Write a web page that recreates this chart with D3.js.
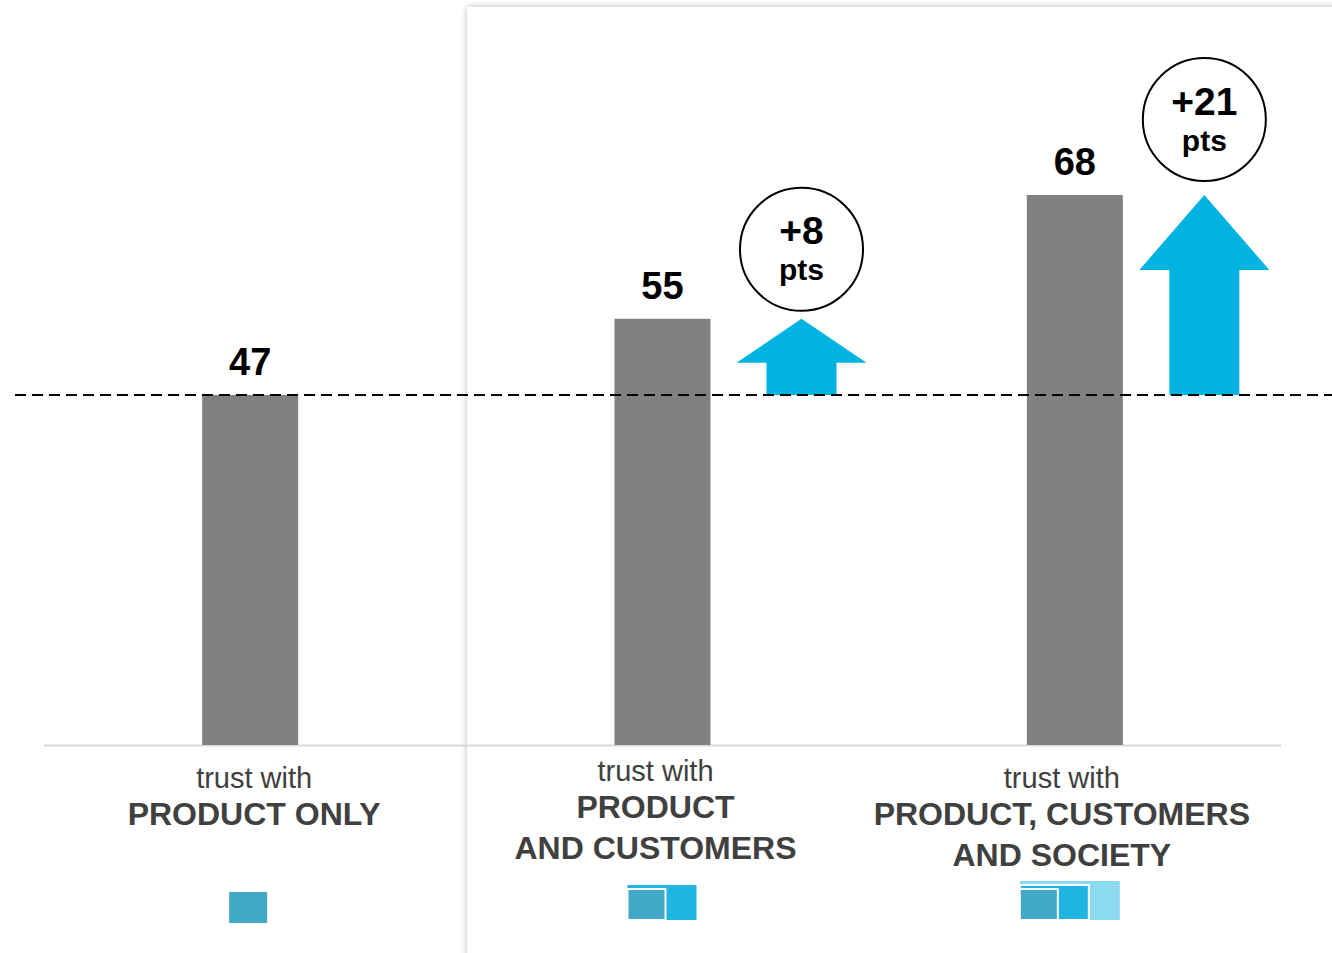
<!DOCTYPE html>
<html>
<head>
<meta charset="utf-8">
<script src="https://cdn.jsdelivr.net/npm/d3@7"></script>
<style>
  html, body { margin: 0; padding: 0; background: #fff; }
  svg { display: block; font-family: "Liberation Sans", Arial, Helvetica, sans-serif; }
</style>
</head>
<body>
<svg id="chart" width="1332" height="953"></svg>
<script>
// ---- data ----
const categories = ["product", "customers", "society"];
const values = [47, 55, 68];
const baselineValue = 47;
const deltaLabels = ["+8", "+21"];          // for categories 2 and 3
const deltaUnit = "pts";
const labelLines = [
  ["trust with", "PRODUCT ONLY"],
  ["trust with", "PRODUCT", "AND CUSTOMERS"],
  ["trust with", "PRODUCT, CUSTOMERS", "AND SOCIETY"]
];
const iconLevels = [1, 2, 3];

// ---- layout / style ----
const W = 1332, H = 953;
const svg = d3.select("#chart");
const barColor = "#808080";
const arrowColor = "#00b3e0";
const iconColors = ["#3fa9c6", "#1fb5e0", "#8cdaf0"];
const textDark = "#404040";

const x = d3.scalePoint().domain(categories).range([44, 1281]).padding(0.5);
const y = d3.scaleLinear().domain([10.25, 68]).range([745, 195]);
const barW = 96;

// panel with shadow
const defs = svg.append("defs");
const f = defs.append("filter").attr("id", "sh").attr("x", "-5%").attr("y", "-5%").attr("width", "110%").attr("height", "110%");
f.append("feDropShadow").attr("dx", 0).attr("dy", 0).attr("stdDeviation", 3).attr("flood-color", "#000").attr("flood-opacity", 0.28);
svg.append("rect").attr("x", 467).attr("y", 7).attr("width", 1000).attr("height", 1100)
  .attr("fill", "#fff").attr("filter", "url(#sh)");

// axis baseline
svg.append("line").attr("x1", 44).attr("x2", 1281).attr("y1", y.range()[0] + 0.5).attr("y2", y.range()[0] + 0.5)
  .attr("stroke", "#d9d9d9").attr("stroke-width", 2);

// bars
svg.selectAll("rect.bar").data(values).join("rect").attr("class", "bar")
  .attr("x", (d, i) => x(categories[i]) - barW / 2)
  .attr("width", barW)
  .attr("y", d => y(d))
  .attr("height", d => y.range()[0] - y(d))
  .attr("fill", barColor);

// value labels
svg.selectAll("text.val").data(values).join("text").attr("class", "val")
  .attr("x", (d, i) => x(categories[i]))
  .attr("y", d => y(d) - 20)
  .attr("text-anchor", "middle")
  .attr("font-size", 38).attr("font-weight", "bold").attr("fill", "#000")
  .text(d => d);

// arrows + circles
const annoDx = [139, 129.5];
const headH = [44, 75];
const circleGap = [8, 14];
const r = 61.5;
values.slice(1).forEach((v, k) => {
  const i = k + 1;
  const cx = x(categories[i]) + annoDx[k];
  const yTop = y(v), yBot = y(baselineValue);
  const hh = headH[k];
  const pts = [
    [cx, yTop], [cx + 65, yTop + hh], [cx + 35, yTop + hh], [cx + 35, yBot],
    [cx - 35, yBot], [cx - 35, yTop + hh], [cx - 65, yTop + hh]
  ];
  svg.append("path").attr("d", d3.line()(pts) + "Z").attr("fill", arrowColor);
  const cy = yTop - circleGap[k] - r;
  svg.append("circle").attr("cx", cx).attr("cy", cy).attr("r", r)
    .attr("fill", "#fff").attr("stroke", "#000").attr("stroke-width", 2);
  svg.append("text").attr("x", cx).attr("y", cy - 5).attr("text-anchor", "middle")
    .attr("font-size", 39).attr("font-weight", "bold").text(deltaLabels[k]);
  svg.append("text").attr("x", cx).attr("y", cy + 31).attr("text-anchor", "middle")
    .attr("font-size", 30).attr("font-weight", "bold").text(deltaUnit);
});

// dashed reference line
svg.append("line").attr("x1", 15).attr("x2", W).attr("y1", y(baselineValue)).attr("y2", y(baselineValue))
  .attr("stroke", "#000").attr("stroke-width", 2).attr("stroke-dasharray", "11,6");

// category labels
const labelDx = [4, -7, -13];
const labelTop = [788, 781, 788];
labelLines.forEach((lines, i) => {
  const cx = x(categories[i]) + labelDx[i];
  lines.forEach((t, j) => {
    const yy = j === 0 ? labelTop[i] : labelTop[i] + 37 + (j - 1) * 41;
    svg.append("text").attr("x", cx).attr("y", yy).attr("text-anchor", "middle")
      .attr("fill", textDark)
      .attr("font-size", j === 0 ? 29 : 32)
      .attr("font-weight", j === 0 ? "normal" : "bold")
      .text(t);
  });
});

// icons
const iconLeft = [-21, -35, -55];
iconLevels.forEach((lvl, i) => {
  const left = x(categories[i]) + iconLeft[i];
  const bottom = [923, 920, 920][i];
  const g = svg.append("g");
  for (let l = lvl - 1; l >= 0; l--) {
    const w = 38 + l * 31;
    const h = 31 + l * 4;
    g.append("rect").attr("x", left).attr("y", bottom - h).attr("width", w).attr("height", h)
      .attr("fill", iconColors[l])
      .attr("stroke", l < lvl - 1 ? "#fff" : "none").attr("stroke-width", 2);
  }
});
</script>
</body>
</html>
